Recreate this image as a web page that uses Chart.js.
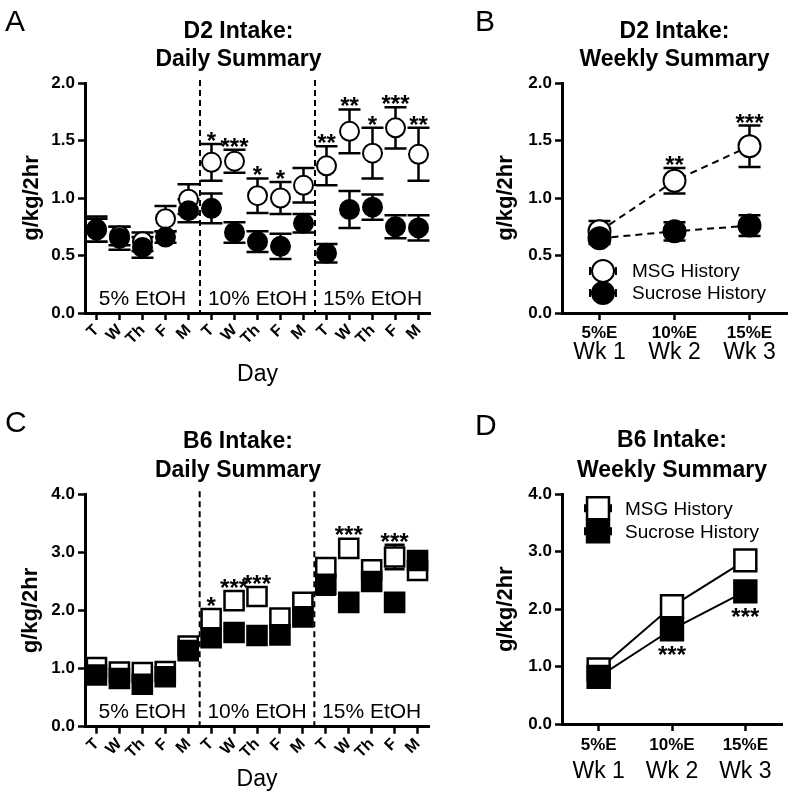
<!DOCTYPE html>
<html>
<head>
<meta charset="utf-8">
<script src="https://cdn.jsdelivr.net/npm/chart.js@4.4.0/dist/chart.umd.min.js"></script>
<style>
  html, body { margin: 0; padding: 0; background: #fff; }
  #fig { position: relative; width: 800px; height: 805px; overflow: hidden; background: #fff; }
  #fig canvas { position: absolute; }
</style>
</head>
<body>
<div id="fig">
  <canvas id="panelA" width="445" height="400" style="left:0;top:0"></canvas>
  <canvas id="panelB" width="330" height="400" style="left:470px;top:0"></canvas>
  <canvas id="panelC" width="445" height="405" style="left:0;top:400px"></canvas>
  <canvas id="panelD" width="330" height="405" style="left:470px;top:400px"></canvas>
</div>
<script>
// categories
const days = ['T', 'W', 'Th', 'F', 'M', 'T', 'W', 'Th', 'F', 'M', 'T', 'W', 'Th', 'F', 'M'];
const etohBlocks = ['5% EtOH', '10% EtOH', '15% EtOH'];
const weekConc = ['5%E', '10%E', '15%E'];
const weekNames = ['Wk 1', 'Wk 2', 'Wk 3'];
const seriesNames = ['MSG History', 'Sucrose History'];

// A - D2 daily (mean, sem)
const d2DailyMsg = [0.72, 0.67, 0.62, 0.82, 0.99, 1.31, 1.32, 1.02, 1.00, 1.11, 1.28, 1.58, 1.39, 1.61, 1.38];
const d2DailyMsgErr = [0.10, 0.08, 0.08, 0.11, 0.13, 0.16, 0.10, 0.15, 0.14, 0.15, 0.17, 0.19, 0.22, 0.18, 0.23];
const d2DailySuc = [0.73, 0.65, 0.57, 0.66, 0.89, 0.91, 0.70, 0.62, 0.58, 0.78, 0.52, 0.90, 0.92, 0.75, 0.74];
const d2DailySucErr = [0.11, 0.10, 0.09, 0.05, 0.10, 0.13, 0.09, 0.09, 0.11, 0.08, 0.08, 0.16, 0.11, 0.10, 0.11];
const d2DailyStars = ['', '', '', '', '', '*', '***', '*', '*', '', '**', '**', '*', '***', '**'];

// B - D2 weekly
const d2WeeklyMsg = [0.71, 1.15, 1.45];
const d2WeeklyMsgErr = [0.09, 0.11, 0.18];
const d2WeeklySuc = [0.65, 0.71, 0.76];
const d2WeeklySucErr = [0.05, 0.08, 0.09];
const d2WeeklyStars = ['', '**', '***'];

// C - B6 daily
const b6DailyMsg = [1.02, 0.94, 0.93, 0.95, 1.39, 1.86, 2.17, 2.24, 1.87, 2.14, 2.74, 3.07, 2.70, 2.92, 2.69];
const b6DailyMsgErr = [0.07, 0.06, 0.07, 0.06, 0.07, 0.12, 0.10, 0.10, 0.10, 0.10, 0.12, 0.12, 0.10, 0.21, 0.10];
const b6DailySuc = [0.89, 0.83, 0.73, 0.86, 1.31, 1.53, 1.62, 1.57, 1.58, 1.89, 2.45, 2.14, 2.50, 2.14, 2.86];
const b6DailySucErr = [0.07, 0.07, 0.08, 0.07, 0.08, 0.10, 0.08, 0.08, 0.08, 0.10, 0.18, 0.08, 0.10, 0.08, 0.10];
const b6DailyStars = ['', '', '', '', '', '*', '***', '***', '', '', '', '***', '', '***', ''];

// D - B6 weekly
const b6WeeklyMsg = [0.95, 2.05, 2.85];
const b6WeeklyMsgErr = [0.05, 0.08, 0.10];
const b6WeeklySuc = [0.82, 1.65, 2.31];
const b6WeeklySucErr = [0.04, 0.08, 0.10];
const b6WeeklyStars = ['', '***', '***'];

const FONT = "'Liberation Sans', Arial, sans-serif";
Chart.defaults.font.family = FONT;
Chart.defaults.color = '#000';

function marker(ctx, style, cx, cy, r, fill, bw) {
  ctx.beginPath();
  if (style === 'rect') {
    const s = r * Math.SQRT1_2;
    ctx.rect(cx - s, cy - s, 2 * s, 2 * s);
  } else {
    ctx.arc(cx, cy, r, 0, Math.PI * 2);
  }
  ctx.fillStyle = fill;
  ctx.fill();
  ctx.lineWidth = bw;
  ctx.strokeStyle = '#000';
  ctx.stroke();
}

const figPlugin = {
  id: 'fig',
  beforeDatasetsDraw(chart, args, o) {
    const ctx = chart.ctx, x = chart.scales.x, y = chart.scales.y, a = chart.chartArea;
    ctx.save();
    ctx.strokeStyle = '#000';
    ctx.fillStyle = '#000';
    // week separators + block labels
    if (o.blocks) {
      ctx.lineWidth = 2;
      ctx.setLineDash([6, 4]);
      for (let b = 1; b < o.blocks.length; b++) {
        const px = (x.getPixelForValue(b * 5 - 1) + x.getPixelForValue(b * 5)) / 2;
        ctx.beginPath();
        ctx.moveTo(px, a.top - 3);
        ctx.lineTo(px, a.bottom);
        ctx.stroke();
      }
      ctx.setLineDash([]);
      ctx.font = '21px ' + FONT;
      ctx.textAlign = 'center';
      ctx.textBaseline = 'alphabetic';
      o.blocks.forEach((t, b) => ctx.fillText(t, x.getPixelForValue(b * 5 + 2), a.bottom - o.blockLift));
    }
    // error bars
    ctx.lineWidth = 2.5;
    chart.data.datasets.forEach((ds, di) => {
      const err = o.errors[di];
      ds.data.forEach((v, i) => {
        const px = x.getPixelForValue(i);
        const hi = y.getPixelForValue(v + err[i]);
        const lo = y.getPixelForValue(v - err[i]);
        ctx.beginPath();
        ctx.moveTo(px, hi); ctx.lineTo(px, lo);
        ctx.moveTo(px - o.cap, hi); ctx.lineTo(px + o.cap, hi);
        ctx.moveTo(px - o.cap, lo); ctx.lineTo(px + o.cap, lo);
        ctx.stroke();
      });
    });
    ctx.restore();
  },
  afterDraw(chart, args, o) {
    const ctx = chart.ctx, x = chart.scales.x, y = chart.scales.y, a = chart.chartArea;
    ctx.save();
    ctx.fillStyle = '#000';
    ctx.strokeStyle = '#000';

    // significance stars
    const s = o.stars;
    const ds = chart.data.datasets[s.dataset];
    const err = o.errors[s.dataset];
    ctx.font = 'bold 24px ' + FONT;
    ctx.textAlign = 'center';
    ctx.textBaseline = 'alphabetic';
    s.labels.forEach((t, i) => {
      if (!t) return;
      const m = ctx.measureText(t);
      const px = x.getPixelForValue(i);
      const v = ds.data[i];
      if (s.below) {
        const edge = Math.max(y.getPixelForValue(v - err[i]), y.getPixelForValue(v) + o.half);
        ctx.fillText(t, px, edge + s.gap + m.actualBoundingBoxAscent);
      } else {
        const edge = Math.min(y.getPixelForValue(v + err[i]), y.getPixelForValue(v) - o.half);
        ctx.fillText(t, px, edge - s.gap - m.actualBoundingBoxDescent);
      }
    });

    // legend inside plot
    if (o.legend) {
      const L = o.legend;
      chart.data.datasets.forEach((d, di) => {
        const cx = a.left + L.dx, cy = a.top + L.dy + di * L.row;
        ctx.lineWidth = 2;
        ctx.beginPath();
        ctx.moveTo(cx - 13, cy); ctx.lineTo(cx + 13, cy);
        ctx.moveTo(cx - 13, cy - 4); ctx.lineTo(cx - 13, cy + 4);
        ctx.moveTo(cx + 13, cy - 4); ctx.lineTo(cx + 13, cy + 4);
        ctx.stroke();
        marker(ctx, d.pointStyle, cx, cy, d.pointRadius, d.pointBackgroundColor, d.pointBorderWidth);
        ctx.fillStyle = '#000';
        ctx.font = '19px ' + FONT;
        ctx.textAlign = 'left';
        ctx.textBaseline = 'middle';
        ctx.fillText(d.label, cx + L.tx, cy + 1);
      });
    }

    // two-line week tick labels
    if (o.weekTicks) {
      const w = o.weekTicks;
      ctx.textAlign = 'center';
      ctx.textBaseline = 'alphabetic';
      w.top.forEach((t, i) => {
        const px = x.getPixelForValue(i);
        ctx.font = 'bold 17px ' + FONT;
        ctx.fillText(t, px, a.bottom + w.dy[0]);
        ctx.font = '23px ' + FONT;
        ctx.fillText(w.bottom[i], px, a.bottom + w.dy[1]);
      });
    }

    // panel letter + title
    ctx.textBaseline = 'alphabetic';
    ctx.font = '30px ' + FONT;
    ctx.textAlign = 'left';
    ctx.fillText(o.letter, o.letterPos[0], o.letterPos[1]);
    ctx.font = 'bold 23px ' + FONT;
    ctx.textAlign = 'center';
    const tx = (a.left + a.right) / 2 + o.titleShift;
    o.title.forEach((t, k) => ctx.fillText(t, tx, o.titleY[k]));
    ctx.restore();
  }
};

function panel(id, p) {
  const axisGrid = { drawOnChartArea: false, tickLength: 7, tickWidth: 2.5, tickColor: '#000', color: '#000', offset: false };
  const axisBorder = { display: true, width: 3, color: '#000' };
  const mk = (name, data, fill, order) => ({
    label: name, data: data, order: order,
    pointStyle: p.shape, pointRadius: p.r, pointBorderWidth: p.bw,
    pointBackgroundColor: fill, pointBorderColor: '#000',
    showLine: !!p.line, borderColor: '#000', borderWidth: 2, borderDash: p.dash || [],
    clip: false
  });
  return new Chart(document.getElementById(id), {
    type: 'line',
    data: {
      labels: p.labels,
      datasets: [mk(seriesNames[0], p.msg, '#fff', 1), mk(seriesNames[1], p.suc, '#000', 0)]
    },
    options: {
      responsive: false,
      animation: false,
      events: [],
      layout: { padding: { left: 0, top: p.top, right: p.right, bottom: 0 } },
      plugins: {
        legend: { display: false },
        tooltip: { enabled: false },
        title: { display: false },
        fig: p.fig
      },
      scales: {
        x: {
          type: 'category',
          offset: true,
          grid: axisGrid,
          border: axisBorder,
          ticks: { display: !p.fig.weekTicks, font: { weight: 'bold', size: 16 }, minRotation: 45, maxRotation: 45, autoSkip: false, padding: 1 },
          title: { display: !!p.xTitle, text: p.xTitle || '', font: { size: 23 }, padding: { top: 0, bottom: 12 } },
          afterFit: s => { s.height = p.xh; }
        },
        y: {
          min: 0, max: p.ymax,
          grid: axisGrid,
          border: axisBorder,
          ticks: { stepSize: p.step, font: { weight: 'bold', size: 17 }, padding: 3, callback: v => v.toFixed(1) },
          title: { display: true, text: 'g/kg/2hr', font: { weight: 'bold', size: 22 }, padding: { top: p.ytPad, bottom: 0 } },
          afterFit: s => { s.width = p.yw; }
        }
      }
    },
    plugins: [figPlugin]
  });
}

panel('panelA', {
  labels: days, msg: d2DailyMsg, suc: d2DailySuc, shape: 'circle', r: 9.5, bw: 2,
  ymax: 2, step: 0.5, top: 83, right: 15, yw: 85, xh: 87, ytPad: 19, xTitle: 'Day',
  fig: {
    errors: [d2DailyMsgErr, d2DailySucErr], cap: 11, half: 10,
    stars: { dataset: 0, labels: d2DailyStars, gap: 3 },
    blocks: etohBlocks, blockLift: 8,
    letter: 'A', letterPos: [5, 31], title: ['D2 Intake:', 'Daily Summary'], titleY: [38, 66], titleShift: -19
  }
});

panel('panelB', {
  labels: weekNames, msg: d2WeeklyMsg, suc: d2WeeklySuc, shape: 'circle', r: 11, bw: 2, line: true, dash: [7, 5],
  ymax: 2, step: 0.5, top: 83, right: 8, yw: 92, xh: 87, ytPad: 23,
  fig: {
    errors: [d2WeeklyMsgErr, d2WeeklySucErr], cap: 11, half: 12,
    stars: { dataset: 0, labels: d2WeeklyStars, gap: 3 },
    legend: { dx: 41, dy: 188, row: 22, tx: 29 },
    weekTicks: { top: weekConc, bottom: weekNames, dy: [25, 46] },
    letter: 'B', letterPos: [5, 31], title: ['D2 Intake:', 'Weekly Summary'], titleY: [38, 66], titleShift: 0
  }
});

panel('panelC', {
  labels: days, msg: b6DailyMsg, suc: b6DailySuc, shape: 'rect', r: 13.5, bw: 2.5,
  ymax: 4, step: 1, top: 94.3, right: 15, yw: 85, xh: 78.3, ytPad: 18, xTitle: 'Day',
  fig: {
    errors: [b6DailyMsgErr, b6DailySucErr], cap: 10, half: 10,
    stars: { dataset: 0, labels: b6DailyStars, gap: 3 },
    blocks: etohBlocks, blockLift: 9,
    letter: 'C', letterPos: [5, 32], title: ['B6 Intake:', 'Daily Summary'], titleY: [48, 76.5], titleShift: -19
  }
});

panel('panelD', {
  labels: weekNames, msg: b6WeeklyMsg, suc: b6WeeklySuc, shape: 'rect', r: 15.5, bw: 2.5, line: true,
  ymax: 4, step: 1, top: 94.3, right: 8, yw: 92, xh: 81, ytPad: 23,
  fig: {
    errors: [b6WeeklyMsgErr, b6WeeklySucErr], cap: 10, half: 11.5,
    stars: { dataset: 1, labels: b6WeeklyStars, gap: 5, below: true },
    legend: { dx: 36, dy: 14, row: 23, tx: 27 },
    weekTicks: { top: weekConc, bottom: weekNames, dy: [26, 54] },
    letter: 'D', letterPos: [5, 35], title: ['B6 Intake:', 'Weekly Summary'], titleY: [46.5, 76.5], titleShift: 0
  }
});
</script>
</body>
</html>
